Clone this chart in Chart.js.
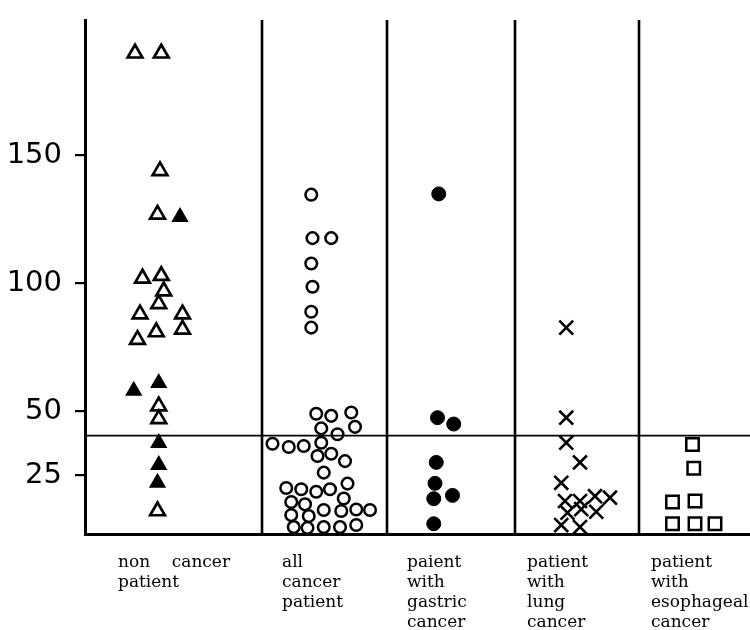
<!DOCTYPE html>
<html><head><meta charset="utf-8">
<script src="https://cdn.jsdelivr.net/npm/chart.js@4.4.1/dist/chart.umd.min.js"></script>
<style>html,body{margin:0;padding:0;background:#fff}</style>
</head><body>
<canvas id="c" width="750" height="630"></canvas>
<script>
// ---- data ----
const categories = [
  ["non    cancer", "patient"],
  ["all", "cancer", "patient"],
  ["paient", "with", "gastric", "cancer"],
  ["patient", "with", "lung", "cancer"],
  ["patient", "with", "esophageal", "cancer"]
];
const categoryLabelX = [0.264, 1.576, 2.576, 3.536, 4.528];
const columnBoundaries = [1.416, 2.416, 3.44, 4.432];
const yTicks = [25, 50, 100, 150];
const cutoffValue = 40.5;
const xRange = [0, 5.32];
const yRange = [2, 203];

const nonCancerOpenX = [0.40, 0.61, 0.60, 0.58, 0.46, 0.61, 0.63, 0.59, 0.44, 0.78, 0.57, 0.78, 0.42, 0.59, 0.59, 0.58];
const nonCancerOpenY = [190, 190, 144, 127, 102, 103, 97, 92, 88, 88, 81, 82, 78, 52, 47, 11];
const nonCancerFilledX = [0.76, 0.39, 0.59, 0.59, 0.59, 0.58];
const nonCancerFilledY = [126, 58, 61, 37.6, 29, 22];

const allCancerX = [1.81, 1.82, 1.97, 1.81, 1.82, 1.81, 1.81,
  1.85, 1.97, 2.13, 1.89, 2.02, 2.16,
  1.50, 1.63, 1.75, 1.89, 1.86, 1.97, 2.08, 1.91,
  1.61, 1.73, 1.85, 1.96, 2.10,
  1.65, 1.76, 2.07,
  1.65, 1.79, 1.91, 2.05, 2.17, 2.28,
  1.67, 1.78, 1.91, 2.04, 2.17];
const allCancerY = [134.7, 117.7, 117.7, 107.8, 98.7, 88.9, 82.7,
  49, 48.2, 49.5, 43.3, 41, 43.9,
  37.3, 36, 36.4, 37.7, 32.5, 33.4, 30.5, 26,
  20, 19.5, 18.5, 19.5, 21.7,
  14.5, 13.6, 15.9,
  9.4, 9, 11.4, 11, 11.6, 11.4,
  4.7, 4.4, 4.7, 4.7, 5.5];

const gastricX = [2.83, 2.82, 2.95, 2.81, 2.80, 2.79, 2.94, 2.79];
const gastricY = [135, 47.5, 45, 30, 21.8, 15.8, 17.1, 6];

const lungX = [3.85, 3.85, 3.85, 3.96, 3.81, 3.84, 3.96, 4.08, 4.20, 3.86, 3.97, 4.09, 3.81, 3.96];
const lungY = [82.7, 47.5, 37.7, 30, 22, 14.9, 14.9, 16.8, 16.2, 10.3, 11.7, 10.7, 5.5, 4.7];

const esophagealX = [4.86, 4.87, 4.70, 4.88, 4.70, 4.88, 5.04];
const esophagealY = [37, 27.7, 14.5, 14.9, 6, 6, 6];

// ---- build ----
const pts = (xs, ys) => xs.map((x, i) => ({x: x, y: ys[i]}));

const markerBase = {showLine: false, borderColor: '#000', pointHoverRadius: 0};
const datasets = [
  Object.assign({}, markerBase, {data: pts(nonCancerOpenX, nonCancerOpenY), pointStyle: 'triangle', pointRadius: 8.5, borderWidth: 2.7, backgroundColor: 'rgba(0,0,0,0)'}),
  Object.assign({}, markerBase, {data: pts(nonCancerFilledX, nonCancerFilledY), pointStyle: 'triangle', pointRadius: 8.5, borderWidth: 1.5, backgroundColor: '#000'}),
  Object.assign({}, markerBase, {data: pts(allCancerX, allCancerY), pointStyle: 'circle', pointRadius: 5.8, borderWidth: 2.5, backgroundColor: 'rgba(0,0,0,0)'}),
  Object.assign({}, markerBase, {data: pts(gastricX, gastricY), pointStyle: 'circle', pointRadius: 7, borderWidth: 1, backgroundColor: '#000'}),
  Object.assign({}, markerBase, {data: pts(lungX, lungY), pointStyle: 'crossRot', pointRadius: 9.8, borderWidth: 2.6, backgroundColor: 'rgba(0,0,0,0)'}),
  Object.assign({}, markerBase, {data: pts(esophagealX, esophagealY), pointStyle: 'rect', pointRadius: 8.8, borderWidth: 2.5, backgroundColor: 'rgba(0,0,0,0)'}),
  {data: [{x: xRange[0], y: cutoffValue}, {x: xRange[1], y: cutoffValue}], showLine: true, pointRadius: 0, borderColor: '#000', borderWidth: 1.8}
];
columnBoundaries.forEach(b => {
  datasets.push({data: [{x: b, y: yRange[0]}, {x: b, y: yRange[1]}], showLine: true, pointRadius: 0, borderColor: '#000', borderWidth: 2.6});
});

// category labels drawn below the x axis, left-aligned at scale positions
const categoryLabelPlugin = {
  id: 'categoryLabels',
  afterDraw(chart) {
    const ctx = chart.ctx, xs = chart.scales.x, area = chart.chartArea;
    ctx.save();
    ctx.fillStyle = '#000';
    ctx.font = '17px "DejaVu Serif"';
    ctx.textAlign = 'left';
    ctx.textBaseline = 'alphabetic';
    categories.forEach((lines, i) => {
      const px = xs.getPixelForValue(categoryLabelX[i]);
      lines.forEach((t, j) => ctx.fillText(t, px, area.bottom + 33 + j * 20));
    });
    ctx.restore();
  }
};

new Chart(document.getElementById('c'), {
  type: 'scatter',
  data: {datasets: datasets},
  plugins: [categoryLabelPlugin],
  options: {
    responsive: false,
    animation: false,
    events: [],
    layout: {autoPadding: false, padding: {top: 20, left: 0, right: 0, bottom: 0}},
    plugins: {legend: {display: false}, tooltip: {enabled: false}},
    scales: {
      x: {
        type: 'linear', min: xRange[0], max: xRange[1],
        grid: {display: false},
        border: {display: true, color: '#000', width: 3},
        afterFit: s => { s.height = 96; s.paddingLeft = 0; s.paddingRight = 0; },
        ticks: {display: false}
      },
      y: {
        type: 'linear', min: yRange[0], max: yRange[1],
        grid: {display: true, drawOnChartArea: false, drawTicks: true, tickLength: 10, color: '#000', lineWidth: 2.2},
        border: {display: true, color: '#000', width: 3},
        afterBuildTicks: s => { s.ticks = yTicks.map(v => ({value: v})); },
        afterFit: s => { s.width = 85; s.paddingTop = 0; s.paddingBottom = 0; },
        ticks: {
          padding: 13, color: '#000', font: {family: 'DejaVu Sans', size: 29},
          callback: v => String(v)
        }
      }
    }
  }
});
</script>
</body></html>
